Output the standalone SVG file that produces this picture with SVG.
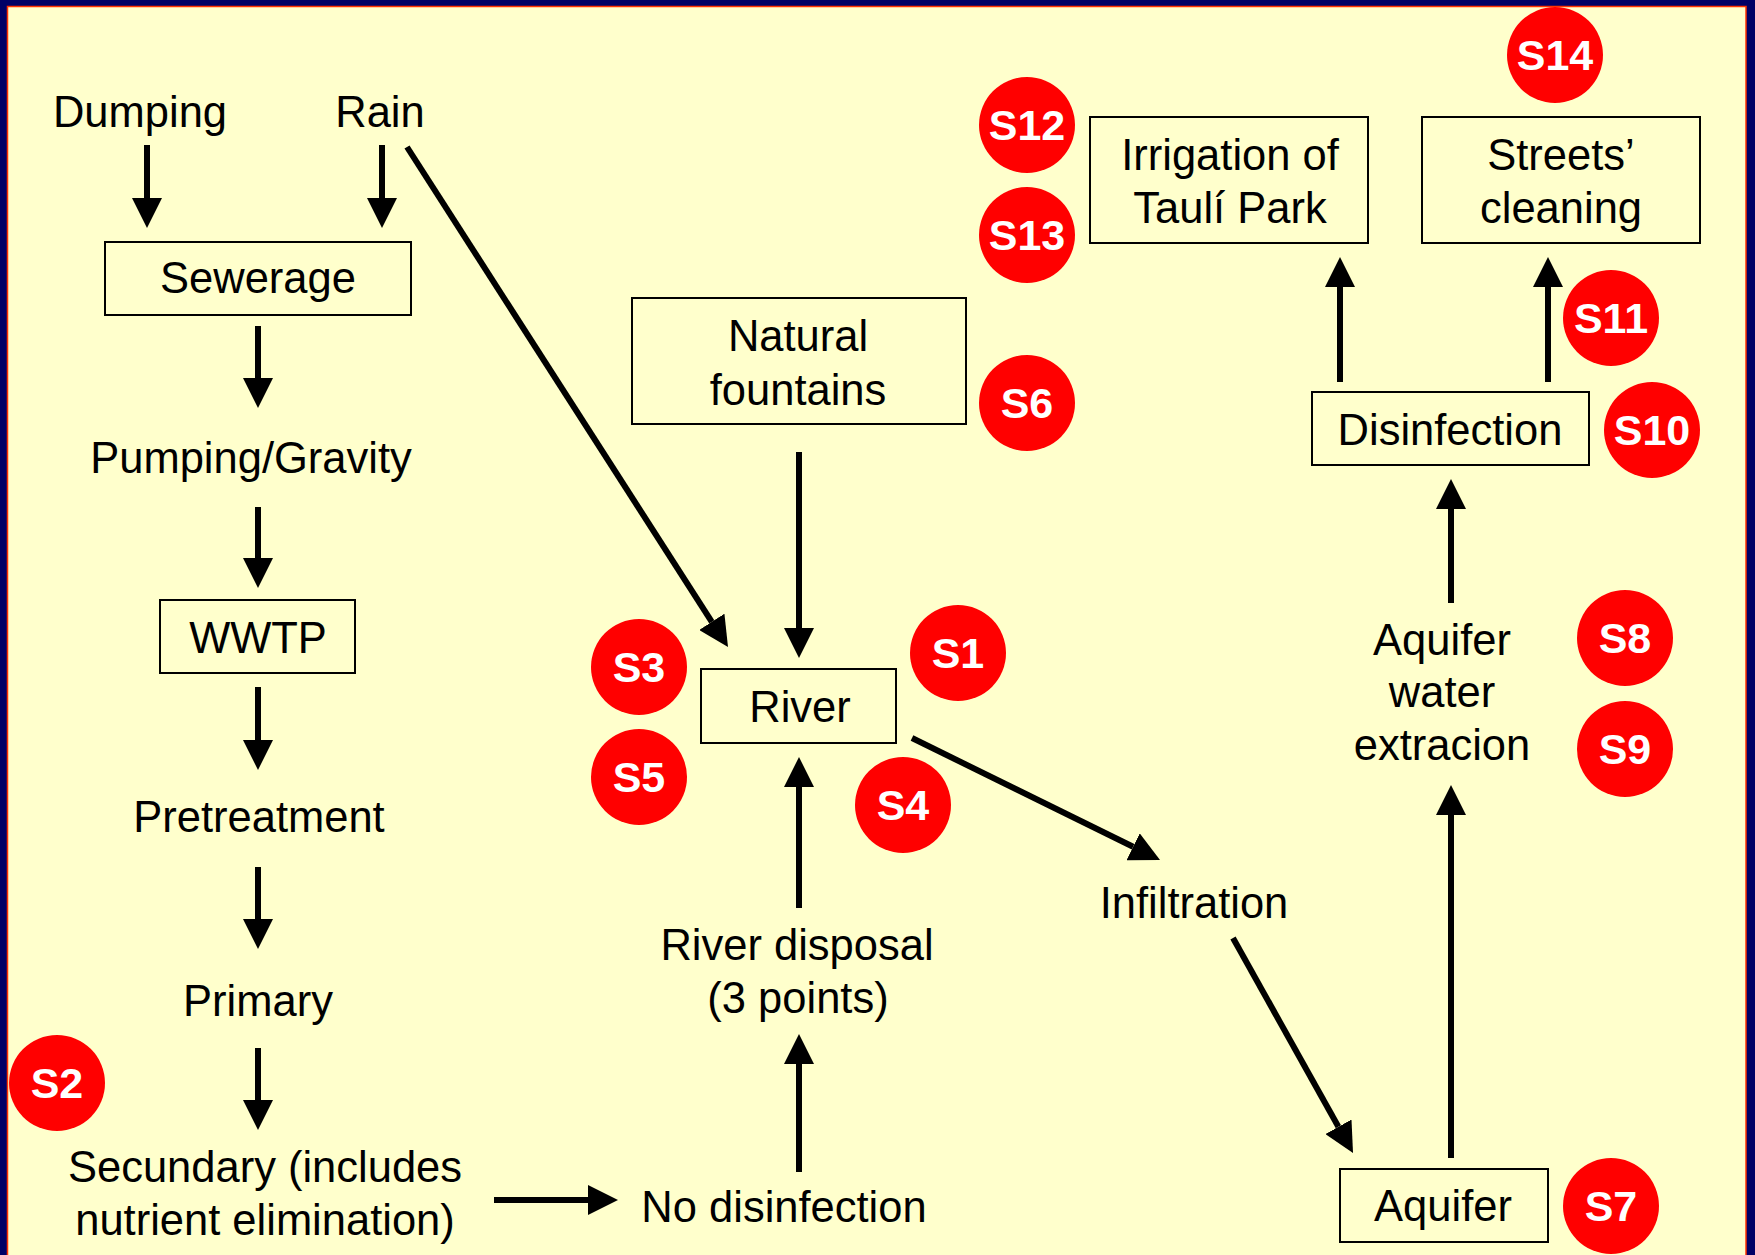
<svg xmlns="http://www.w3.org/2000/svg" width="1755" height="1255" viewBox="0 0 1755 1255">
<style>
.t{font-family:"Liberation Sans",Arial,Helvetica,sans-serif;font-size:43.5px;fill:#000;text-anchor:middle}
.b{fill:none;stroke:#000;stroke-width:2}
.s{fill:#FF0000}
.st{font-family:"Liberation Sans",Arial,Helvetica,sans-serif;font-size:43px;font-weight:bold;fill:#FFFFFF;text-anchor:middle}
.c{stroke:#000;stroke-width:6;fill:none;marker-end:url(#ah)}
</style>
<defs>
<marker id="ah" markerUnits="userSpaceOnUse" markerWidth="30" markerHeight="30" viewBox="0 -15 30 30" refX="0" refY="0" orient="auto">
<path d="M0,-15 L30,0 L0,15 Z" fill="#000"/>
</marker>
</defs>
<rect x="0" y="0" width="1755" height="1255" fill="#000066"/>
<rect x="7.5" y="6.5" width="1738.5" height="1260" fill="#FFFFCC" stroke="#FF3300" stroke-width="1.5"/>

<g id="connectors">
<line class="c" x1="147" y1="145" x2="147" y2="198"/>
<line class="c" x1="382" y1="145" x2="382" y2="198"/>
<line class="c" x1="258" y1="326" x2="258" y2="378"/>
<line class="c" x1="258" y1="507" x2="258" y2="558"/>
<line class="c" x1="258" y1="687" x2="258" y2="740"/>
<line class="c" x1="258" y1="867" x2="258" y2="919"/>
<line class="c" x1="258" y1="1048" x2="258" y2="1100"/>
<line class="c" x1="494" y1="1200" x2="588" y2="1200"/>
<line class="c" x1="799" y1="1172" x2="799" y2="1064"/>
<line class="c" x1="799" y1="908" x2="799" y2="787"/>
<line class="c" x1="799" y1="452" x2="799" y2="628"/>
<line class="c" x1="407" y1="147" x2="711.8" y2="621.8"/>
<line class="c" x1="912" y1="738" x2="1133.1" y2="846.8"/>
<line class="c" x1="1233" y1="938" x2="1338.4" y2="1126.8"/>
<line class="c" x1="1451" y1="1158" x2="1451" y2="815"/>
<line class="c" x1="1451" y1="603" x2="1451" y2="509"/>
<line class="c" x1="1340" y1="382" x2="1340" y2="287"/>
<line class="c" x1="1548" y1="382" x2="1548" y2="287"/>
</g>

<g id="dumping"><text class="t" x="140" y="127">Dumping</text></g>
<g id="rain"><text class="t" x="380" y="127">Rain</text></g>
<g id="sewerage"><rect class="b" x="105" y="242" width="306" height="73"/><text class="t" x="258" y="293">Sewerage</text></g>
<g id="pumping"><text class="t" x="251" y="473">Pumping/Gravity</text></g>
<g id="wwtp"><rect class="b" x="160" y="600" width="195" height="73"/><text class="t" x="258" y="653">WWTP</text></g>
<g id="pretreatment"><text class="t" x="259" y="832">Pretreatment</text></g>
<g id="primary"><text class="t" x="258" y="1016">Primary</text></g>
<g id="secundary"><text class="t" x="265" y="1182">Secundary (includes</text><text class="t" x="265" y="1235">nutrient elimination)</text></g>
<g id="nodisinfection"><text class="t" x="784" y="1222">No disinfection</text></g>
<g id="riverdisposal"><text class="t" x="797" y="960">River disposal</text><text class="t" x="798" y="1013">(3 points)</text></g>
<g id="river"><rect class="b" x="701" y="669" width="195" height="74"/><text class="t" x="800" y="722">River</text></g>
<g id="naturalfountains"><rect class="b" x="632" y="298" width="334" height="126"/><text class="t" x="798" y="351">Natural</text><text class="t" x="798" y="405">fountains</text></g>
<g id="infiltration"><text class="t" x="1194" y="918">Infiltration</text></g>
<g id="aquifer"><rect class="b" x="1340" y="1169" width="208" height="73"/><text class="t" x="1443" y="1221">Aquifer</text></g>
<g id="extraction"><text class="t" x="1442" y="655">Aquifer</text><text class="t" x="1442" y="707">water</text><text class="t" x="1442" y="760">extracion</text></g>
<g id="disinfection"><rect class="b" x="1312" y="392" width="277" height="73"/><text class="t" x="1450" y="445">Disinfection</text></g>
<g id="irrigation"><rect class="b" x="1090" y="117" width="278" height="126"/><text class="t" x="1230" y="170">Irrigation of</text><text class="t" x="1230" y="223">Taulí Park</text></g>
<g id="streets"><rect class="b" x="1422" y="117" width="278" height="126"/><text class="t" x="1561" y="170">Streets’</text><text class="t" x="1561" y="223">cleaning</text></g>

<g id="S1"><circle class="s" cx="958" cy="653" r="48"/><text class="st" x="958" y="668">S1</text></g>
<g id="S2"><circle class="s" cx="57" cy="1083" r="48"/><text class="st" x="57" y="1098">S2</text></g>
<g id="S3"><circle class="s" cx="639" cy="667" r="48"/><text class="st" x="639" y="682">S3</text></g>
<g id="S4"><circle class="s" cx="903" cy="805" r="48"/><text class="st" x="903" y="820">S4</text></g>
<g id="S5"><circle class="s" cx="639" cy="777" r="48"/><text class="st" x="639" y="792">S5</text></g>
<g id="S6"><circle class="s" cx="1027" cy="403" r="48"/><text class="st" x="1027" y="418">S6</text></g>
<g id="S7"><circle class="s" cx="1611" cy="1206" r="48"/><text class="st" x="1611" y="1221">S7</text></g>
<g id="S8"><circle class="s" cx="1625" cy="638" r="48"/><text class="st" x="1625" y="653">S8</text></g>
<g id="S9"><circle class="s" cx="1625" cy="749" r="48"/><text class="st" x="1625" y="764">S9</text></g>
<g id="S10"><circle class="s" cx="1652" cy="430" r="48"/><text class="st" x="1652" y="445">S10</text></g>
<g id="S11"><circle class="s" cx="1611" cy="318" r="48"/><text class="st" x="1611" y="333">S11</text></g>
<g id="S12"><circle class="s" cx="1027" cy="125" r="48"/><text class="st" x="1027" y="140">S12</text></g>
<g id="S13"><circle class="s" cx="1027" cy="235" r="48"/><text class="st" x="1027" y="250">S13</text></g>
<g id="S14"><circle class="s" cx="1555" cy="55" r="48"/><text class="st" x="1555" y="70">S14</text></g>
</svg>
